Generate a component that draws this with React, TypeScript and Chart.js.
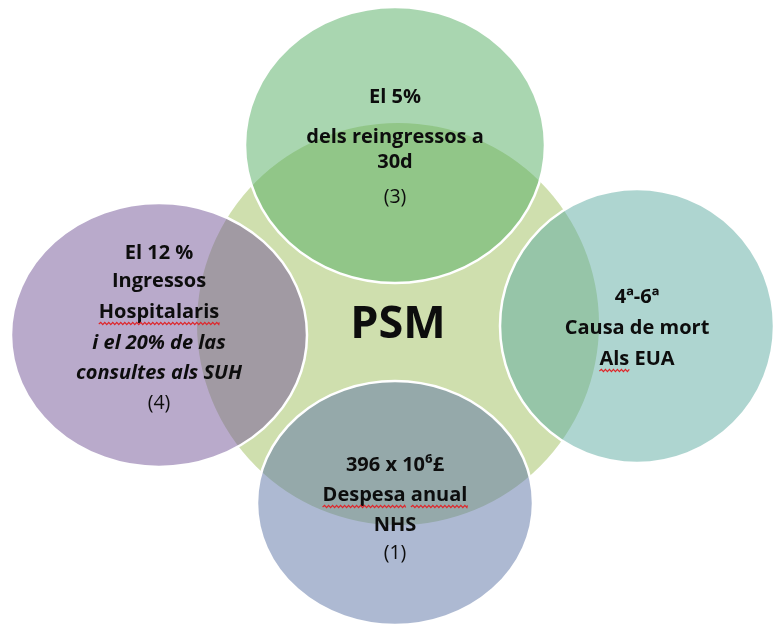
import React, { useEffect, useRef } from "react";
import { Chart, registerables } from "chart.js";

Chart.register(...registerables);

// ---- data ----
const circleNames = ["PSM", "reingressos", "mortalitat", "despesa", "ingressos"];
const centerX = [398, 395, 637, 395, 159];
const centerY = [324, 145, 326, 503, 335];
const radiusX = [201, 150, 137, 138, 148];
const radiusY = [201, 138, 137, 122, 132];
const fillColors = [
  "#cfdfae",
  "rgba(83,173,97,0.5)",
  "rgba(93,171,161,0.5)",
  "rgba(91,115,165,0.5)",
  "rgba(115,85,151,0.5)",
];

const labelPSM = ["PSM"];
const labelReingressos = ["El 5%", "dels reingressos a", "30d", "(3)"];
const labelMortalitat = ["4ª-6ª", "Causa de mort", "Als EUA"];
const labelDespesa = ["396 x 10⁶£", "Despesa anual", "NHS", "(1)"];
const labelIngressos = ["El 12 %", "Ingressos", "Hospitalaris", "i el 20% de las", "consultes als SUH", "(4)"];
const circleLabels = [labelPSM, labelReingressos, labelMortalitat, labelDespesa, labelIngressos];

// ---- layout / style (not data) ----
type Style = { dy: number; weight: string; italic?: boolean; size: number; wavy?: string[] };
const FONT = "'Open Sans', 'Noto Sans', sans-serif";
const B = 20;
const R = 19.5;
const labelStyles: Style[][] = [
  [{ dy: 1, weight: "bold", size: 45 }],
  [
    { dy: -48, weight: "bold", size: B },
    { dy: -8, weight: "bold", size: B },
    { dy: 17, weight: "bold", size: B },
    { dy: 52, weight: "normal", size: R },
  ],
  [
    { dy: -29, weight: "bold", size: B },
    { dy: 2, weight: "bold", size: B },
    { dy: 33, weight: "bold", size: B, wavy: ["Als"] },
  ],
  [
    { dy: -38, weight: "bold", size: B },
    { dy: -8, weight: "bold", size: B, wavy: ["Despesa", "anual"] },
    { dy: 22, weight: "bold", size: B },
    { dy: 50, weight: "normal", size: R },
  ],
  [
    { dy: -82, weight: "bold", size: B },
    { dy: -54, weight: "bold", size: B },
    { dy: -23, weight: "bold", size: B, wavy: ["Hospitalaris"] },
    { dy: 8, weight: "bold", italic: true, size: B },
    { dy: 38, weight: "bold", italic: true, size: B },
    { dy: 68, weight: "normal", size: R },
  ],
];

function wavyLine(ctx: CanvasRenderingContext2D, x0: number, x1: number, y: number) {
  ctx.save();
  ctx.strokeStyle = "#e0262a";
  ctx.lineWidth = 1.2;
  ctx.beginPath();
  let up = true;
  ctx.moveTo(x0, y);
  for (let x = x0; x < x1; x += 2) {
    ctx.lineTo(Math.min(x + 2, x1), up ? y - 1.6 : y + 0.6);
    up = !up;
  }
  ctx.stroke();
  ctx.restore();
}

const ellipsePlugin = {
  id: "ellipses",
  afterDatasetsDraw(chart: any) {
    const ctx: CanvasRenderingContext2D = chart.ctx;
    const meta = chart.getDatasetMeta(0);
    const xs = chart.scales.x;
    const ys = chart.scales.y;
    ctx.save();
    meta.data.forEach((pt: any, i: number) => {
      const rx = Math.abs(xs.getPixelForValue(centerX[i] + radiusX[i]) - pt.x);
      const ry = Math.abs(ys.getPixelForValue(centerY[i] + radiusY[i]) - pt.y);
      ctx.beginPath();
      ctx.ellipse(pt.x, pt.y, rx, ry, 0, 0, Math.PI * 2);
      ctx.fillStyle = fillColors[i];
      ctx.fill();
      if (i > 0) {
        ctx.strokeStyle = "#ffffff";
        ctx.lineWidth = 2.5;
        ctx.stroke();
      }
    });
    // labels
    ctx.textAlign = "center";
    ctx.textBaseline = "middle";
    ctx.fillStyle = "#0d0d0d";
    meta.data.forEach((pt: any, i: number) => {
      const lines = circleLabels[i];
      lines.forEach((line, j) => {
        const st = labelStyles[i][j];
        ctx.font = `${st.italic ? "italic " : ""}${st.weight} ${st.size}px ${FONT}`;
        const y = pt.y + st.dy;
        ctx.fillText(line, pt.x, y);
        if (st.wavy) {
          const total = ctx.measureText(line).width;
          const left = pt.x - total / 2;
          st.wavy.forEach((w) => {
            const idx = line.indexOf(w);
            const pre = ctx.measureText(line.slice(0, idx)).width;
            const ww = ctx.measureText(w).width;
            wavyLine(ctx, left + pre, left + pre + ww, y + 12);
          });
        }
      });
    });
    ctx.restore();
  },
};

export default function App() {
  const ref = useRef<HTMLCanvasElement | null>(null);
  useEffect(() => {
    if (!ref.current) return;
    const chart = new Chart(ref.current, {
      type: "scatter",
      data: {
        labels: circleNames,
        datasets: [
          {
            label: "PSM",
            data: centerX.map((x, i) => ({ x, y: centerY[i] })),
            pointRadius: 0,
            pointHoverRadius: 0,
          },
        ],
      },
      options: {
        responsive: false,
        animation: false,
        events: [],
        layout: { padding: 0 },
        plugins: { legend: { display: false }, tooltip: { enabled: false } },
        scales: {
          x: { type: "linear", min: 0, max: 774, display: false },
          y: { type: "linear", min: 0, max: 627, reverse: true, display: false },
        },
      },
      plugins: [ellipsePlugin],
    });
    return () => chart.destroy();
  }, []);
  return (
    <div style={{ position: "absolute", left: 0, top: 0, width: 774, height: 627, background: "#fff" }}>
      <canvas ref={ref} width={774} height={627} />
    </div>
  );
}
